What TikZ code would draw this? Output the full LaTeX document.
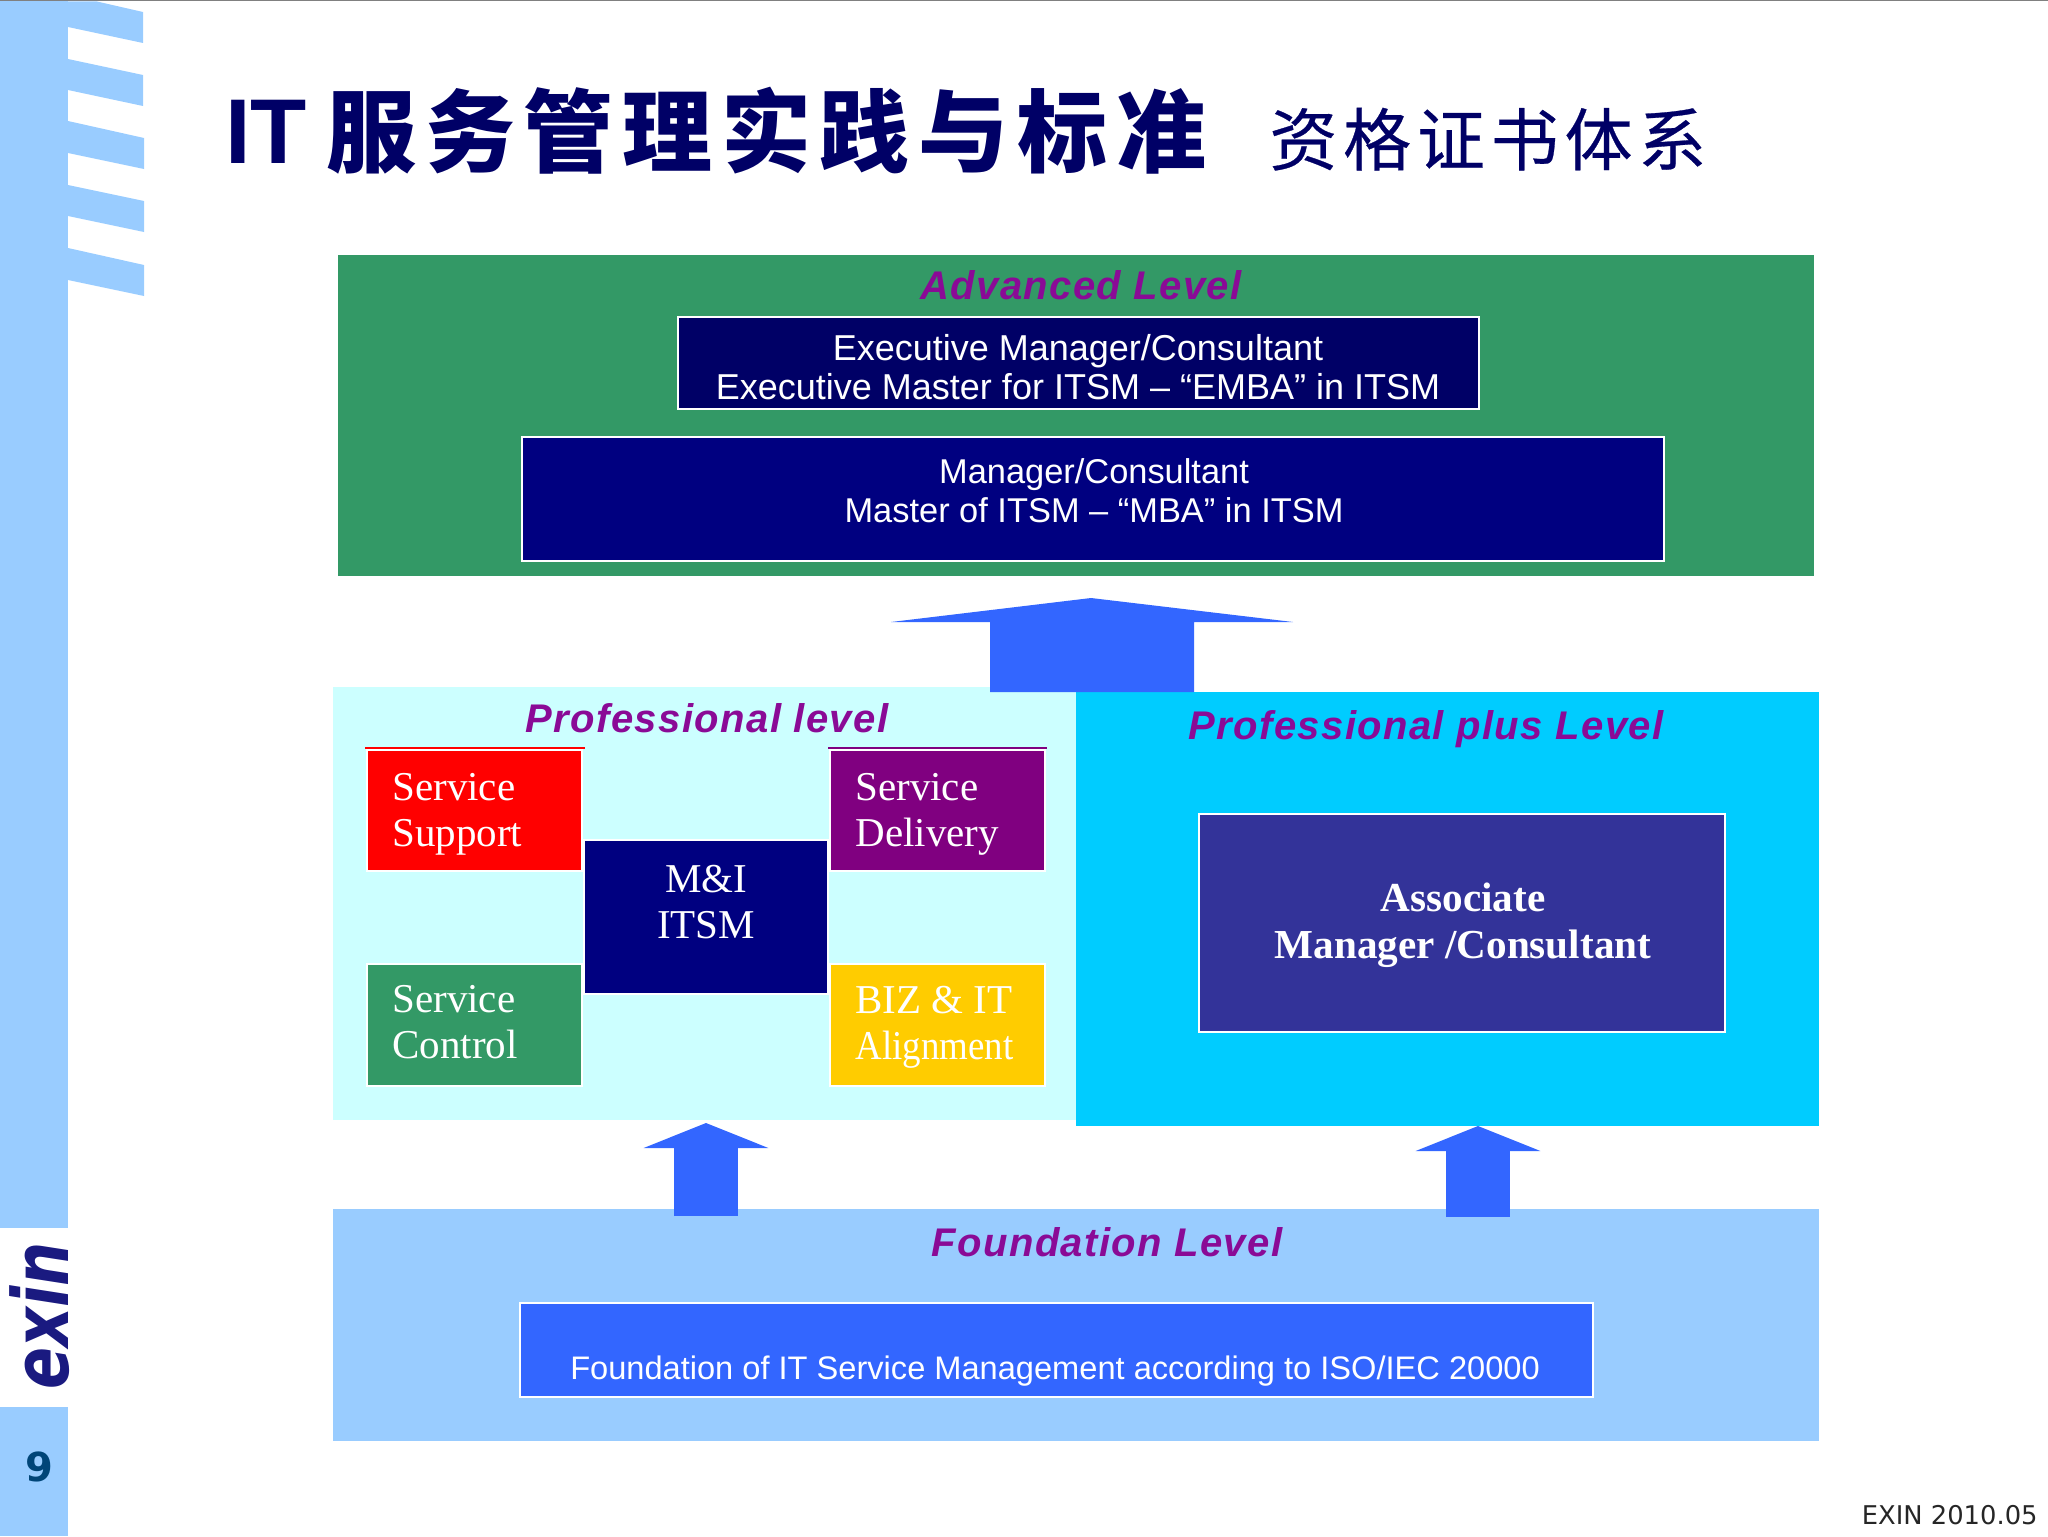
\documentclass[tikz,border=0pt]{standalone}
\usepackage{fontspec}
\setmainfont{Liberation Serif}
\setsansfont{Liberation Sans}
\newfontfamily\cjk{Noto Sans CJK SC}
\newfontfamily\versa{DejaVu Sans}
\usetikzlibrary{arrows.meta}
\definecolor{sidebar}{HTML}{99CCFF}
\definecolor{titleblue}{HTML}{000066}
\definecolor{logoblue}{HTML}{1A1A80}
\definecolor{pageblue}{HTML}{004578}
\definecolor{levelpurple}{HTML}{8A0A96}
\definecolor{advgreen}{HTML}{339966}
\definecolor{execnavy}{HTML}{000066}
\definecolor{mgrnavy}{HTML}{000080}
\definecolor{profpale}{HTML}{CCFFFF}
\definecolor{plusblue}{HTML}{00CCFF}
\definecolor{assocblue}{HTML}{333399}
\definecolor{arrowblue}{HTML}{3366FF}
\definecolor{tilepurple}{HTML}{800080}
\definecolor{tileyellow}{HTML}{FFCC00}
\tikzset{
  band/.style={inner sep=0pt,outer sep=0pt},
  tile/.style={draw=white,line width=1pt,inner sep=0pt,outer sep=0pt},
  stripe/.style={fill=sidebar},
  levellabel/.style={font=\sffamily\bfseries\itshape\fontsize{20}{24}\selectfont\addfontfeatures{LetterSpace=3.5},text=levelpurple},
  boxtext/.style={font=\sffamily\fontsize{18}{19.5}\selectfont,text=white,align=center,inner sep=0pt},
  tiletext/.style={font=\fontsize{20.5}{23}\selectfont,text=white,align=left,anchor=west,inner sep=0pt},
  smallarrow/.style={draw=arrowblue,line width=32pt,-{Triangle[length=12.5pt,width=62pt]}}
}
\begin{document}
\begin{tikzpicture}[x=.5pt,y=-.5pt]
\useasboundingbox (0,0) rectangle (2048,1536);
\fill[gray] (0,0) rectangle (2048,1.5);
\fill[stripe] (0,1.5) rectangle (68,1228);
\fill[stripe] (0,1407) rectangle (68,1536);
\fill[stripe] (68,1.5)--(97,1.5)--(143,12)--(143,43)--(68,27)--cycle;
\fill[stripe] (68,59)--(143,75)--(143,106)--(68,90)--cycle;
\fill[stripe] (68,121)--(144,138)--(144,169)--(68,153)--cycle;
\fill[stripe] (68,185)--(144,201)--(144,232)--(68,216)--cycle;
\fill[stripe] (68,248)--(144,265)--(144,296)--(68,280)--cycle;
\node[rotate=90,anchor=base,inner sep=0pt,text=logoblue,font=\versa\bfseries\itshape\fontsize{31}{36}\selectfont] (logo) at (68,1316) {\scalebox{1}[1.25]{exin}};
\node[inner sep=0pt,text=pageblue,font=\versa\bfseries\fontsize{20}{24}\selectfont] (pagenum) at (39,1467) {9};
\node[anchor=base west,inner sep=0pt,text=titleblue,font=\sffamily\bfseries\fontsize{46}{50}\selectfont] (titleit) at (225,163) {IT};
\node[anchor=base west,inner sep=0pt,text=titleblue,font=\cjk\bfseries\fontsize{45}{50}\selectfont\addfontfeatures{LetterSpace=9.7}] (titlecn) at (326,165) {服务管理实践与标准};
\node[anchor=base west,inner sep=0pt,text=titleblue,font=\cjk\fontsize{34}{40}\selectfont\addfontfeatures{LetterSpace=8.5,FakeBold=0.4}] (subtitle) at (1269,165) {资格证书体系};
\node[band,fill=advgreen,minimum width=738pt,minimum height=160.5pt] (advanced) at (1076,415.5) {};
\node[levellabel] (advlabel) at (1081,285) {Advanced Level};
\node[tile,fill=execnavy,minimum width=400.5pt,minimum height=46pt] (exec) at (1078.5,363) {};
\node[boxtext] (exectext) at (1078,367) {Executive Manager/Consultant\\Executive Master for ITSM – “EMBA” in ITSM};
\node[tile,fill=mgrnavy,minimum width=571pt,minimum height=62pt] (manager) at (1093,499) {};
\node[boxtext,font=\sffamily\fontsize{17.2}{19.5}\selectfont] (mgrtext) at (1094,491) {Manager/Consultant\\Master of ITSM – “MBA” in ITSM};
\node[band,fill=profpale,minimum width=371.5pt,minimum height=216.5pt] (professional) at (704.5,903.5) {};
\node[levellabel] (proflabel) at (707,718) {Professional level};
\draw[red,line width=1pt] (365,748)--(585,748);
\draw[tilepurple,line width=1pt] (828,748)--(1047,748);
\node[tile,fill=red,minimum width=107.5pt,minimum height=60.5pt] (support) at (474.5,810.5) {};
\node[tiletext] (supporttext) at (392,814) {Service\\Support};
\node[tile,fill=tilepurple,minimum width=107.5pt,minimum height=60.5pt] (delivery) at (937.5,810.5) {};
\node[tiletext] (deliverytext) at (855,814) {Service\\Delivery};
\node[tile,fill=advgreen,minimum width=107.5pt,minimum height=61pt] (control) at (474.5,1025) {};
\node[tiletext] (controltext) at (392,1022) {Service\\Control};
\node[tile,fill=tileyellow,minimum width=107.5pt,minimum height=61pt] (bizit) at (937.5,1025) {};
\node[tiletext] (biztext) at (855,1027) {BIZ \& IT\\\scalebox{.9}[1]{Alignment}};
\node[tile,fill=mgrnavy,minimum width=122pt,minimum height=77pt] (mitsm) at (706,917) {};
\node[tiletext,anchor=center,align=center] (mitsmtext) at (706,902) {M\&I\\ITSM};
\node[band,fill=plusblue,minimum width=371.5pt,minimum height=217pt] (plus) at (1447.5,909) {};
\node[levellabel] (pluslabel) at (1426,729) {Professional plus Level};
\node[tile,fill=assocblue,minimum width=263pt,minimum height=109pt] (associate) at (1462,923) {};
\node[tiletext,anchor=center,align=center,font=\bfseries\fontsize{20.6}{23.5}\selectfont] (assoctext) at (1463,925) {Associate\\Manager /Consultant};
\node[band,fill=sidebar,minimum width=743pt,minimum height=116pt] (foundation) at (1076,1325) {};
\node[levellabel] (foundlabel) at (1107,1242) {Foundation Level};
\node[tile,fill=arrowblue,minimum width=536.5pt,minimum height=47pt] (foundbox) at (1056.5,1350) {};
\node[boxtext,font=\sffamily\fontsize{16.3}{19.5}\selectfont] (foundtext) at (1055,1371) {Foundation of IT Service Management according to ISO/IEC 20000};
\coordinate (bigtip) at (1091,598);
\coordinate (leftfoot) at (706,1216);
\coordinate (lefttip) at (706,1123);
\coordinate (rightfoot) at (1478,1217);
\coordinate (righttip) at (1478,1126);
\fill[arrowblue] (bigtip)--++(-200,24)--++(99,0)--++(0,70)--++(204,0)--++(0,-70)--++(99,0)--cycle;
\draw[smallarrow] (leftfoot)--(lefttip);
\draw[smallarrow] (rightfoot)--(righttip);
\node[anchor=east,inner sep=0pt,font=\versa\fontsize{12.9}{15}\selectfont,text=black!85] (stamp) at (2038,1515) {EXIN 2010.05};
\end{tikzpicture}
\end{document}
